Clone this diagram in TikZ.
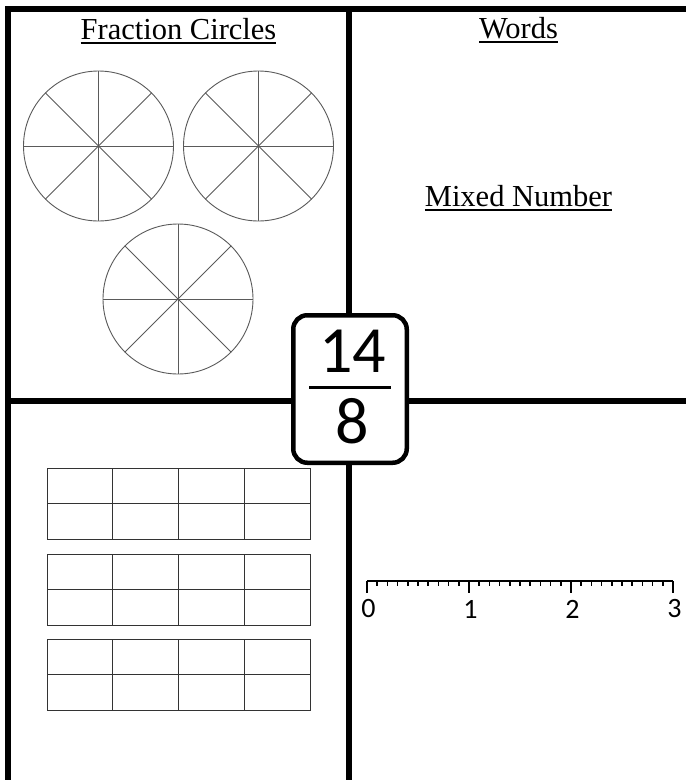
\documentclass[tikz,border=0pt]{standalone}
\usepackage{fontspec}
\setmainfont{Liberation Serif}
\newfontfamily\calib{Carlito}
\usetikzlibrary{positioning, calc}
\definecolor{wheelgray}{HTML}{5A5A5A}
\definecolor{gridgray}{HTML}{333333}
% underlined heading text
\newcommand{\headline}[1]{\setbox0\hbox{#1}\rlap{\rule[-4.6pt]{\wd0}{1.8pt}}\box0}

\begin{document}
\begin{tikzpicture}[x=1pt, y=-1pt,
    frame/.style={line width=6pt, line join=miter},
    head/.style={font=\fontsize{30.5}{32}\selectfont, inner sep=0pt, anchor=base},
    wheel/.style={circle, draw=wheelgray, line width=0.9pt, minimum size=150pt, inner sep=0pt},
    spoke/.style={draw=wheelgray, line width=0.9pt},
    bar/.style={draw=gridgray, line width=1pt},
    fracbox/.style={draw, fill=white, line width=4.5pt, rounded corners=14pt, minimum width=113.5pt, minimum height=147.5pt},
    digit/.style={font=\calib\fontsize{66}{66}\selectfont, inner sep=0pt},
    tick/.style={line width=1.5pt},
    numlab/.style={font=\calib\fontsize{28}{28}\selectfont, inner sep=0pt}]
  \useasboundingbox (0,0) rectangle (686,780);

  % quadrant lines
  \draw[frame] (8,780) -- (8,9) -- (686,9);
  \draw[frame] (349,6) -- (349,780);
  \draw[frame] (5,401) -- (686,401);

  % headings
  \node[head] (fc) at (178.5,39) {\headline{Fraction Circles}};
  \node[head] (w) at (518.5,38) {\headline{Words}};
  \node[head] (mn) at (518.5,206) {\headline{Mixed Number}};

  % fraction circles
  \node[wheel] (c1) at (98.5,146) {};
  \node[wheel] (c2) at (258.5,146) {};
  \node[wheel] (c3) at (178,299) {};
  \foreach \c in {c1,c2,c3}
    \foreach \a in {0,45,...,315}
      \draw[spoke] (\c.center) -- (\c.\a);

  % bar models
  \foreach \y in {468,554,639} {
    \draw[bar] (47,\y) rectangle (310,\y+71.5);
    \draw[bar] (47,\y+35.75) -- (310,\y+35.75);
    \foreach \x in {112.75,178.5,244.25}
      \draw[bar] (\x,\y) -- (\x,\y+71.5);
  }

  % number line
  \coordinate (nl0) at (367,581);
  \coordinate (nl3) at (673,581);
  \draw[tick] (nl0) -- (nl3);
  \foreach \i in {0,...,30}
    \draw[tick] ($(nl0)+(\i*10.2,0)$) -- ++(0,5);
  \foreach \i in {0,1,2,3} {
    \draw[tick] ($(nl0)+(\i*102,0)$) -- ++(0,12);
    \node[numlab] (n\i) at ($(nl0)+(\i*102+1.5,28)$) {\i};
  }

  % fraction
  \node[fracbox] (frac) at (350,389) {};
  \node[digit] (num) at (352.5,351) {14};
  \node[digit] (den) at (352.5,421) {8};
  \draw[line width=3pt] ([xshift=-41pt,yshift=2pt]frac.center) -- ([xshift=41pt,yshift=2pt]frac.center);
\end{tikzpicture}
\end{document}
